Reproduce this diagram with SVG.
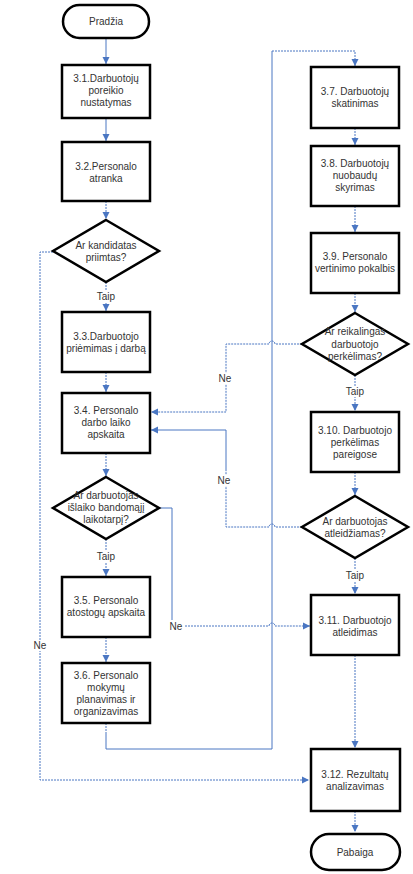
<svg xmlns="http://www.w3.org/2000/svg" width="413" height="874" viewBox="0 0 413 874">
<defs>
<marker id="ah" markerWidth="8" markerHeight="8" refX="7" refY="4" orient="auto" markerUnits="userSpaceOnUse">
<path d="M0,0.5 L7,4 L0,7.5 Z" fill="#4a76c2"/>
</marker>
</defs>
<style>
.n{fill:#fff;stroke:#000;stroke-width:2.5}
.t{font-family:"Liberation Sans",Arial,sans-serif;font-size:10px;fill:#333;text-anchor:middle}
.c{fill:none;stroke:#4a76c2;stroke-width:1}
.d{stroke-dasharray:2 1}
.lb{fill:#fff}
</style>
<rect width="413" height="874" fill="#fff"/>
<g id="connectors">
<path class="c" d="M106,38 V64" marker-end="url(#ah)"/>
<path class="c" d="M106,118 V141" marker-end="url(#ah)"/>
<path class="c d" d="M106,201 V219" marker-end="url(#ah)"/>
<path class="c d" d="M106,282 V311" marker-end="url(#ah)"/>
<path class="c d" d="M106,372 V392" marker-end="url(#ah)"/>
<path class="c d" d="M106,453 V476" marker-end="url(#ah)"/>
<path class="c d" d="M106,539 V576" marker-end="url(#ah)"/>
<path class="c d" d="M106,637 V662" marker-end="url(#ah)"/>
<path class="c d" d="M106,723 V732"/>
<path class="c" d="M106,732 V749 H272 V51"/>
<path class="c d" d="M272,51 H355 V66" marker-end="url(#ah)"/>
<path class="c d" d="M355,128 V145" marker-end="url(#ah)"/>
<path class="c d" d="M355,206 V232" marker-end="url(#ah)"/>
<path class="c d" d="M355,293 V312" marker-end="url(#ah)"/>
<path class="c d" d="M355,375 V411" marker-end="url(#ah)"/>
<path class="c d" d="M355,472 V495" marker-end="url(#ah)"/>
<path class="c d" d="M355,558 V594" marker-end="url(#ah)"/>
<path class="c d" d="M355,655 V748" marker-end="url(#ah)"/>
<path class="c d" d="M355,811 V832" marker-end="url(#ah)"/>
<path class="c d" d="M53,252 H40 V780 H309" marker-end="url(#ah)"/>
<path class="c" d="M159,508 H172 V620"/>
<path class="c d" d="M182,626 H269 A3,3 0 0 1 275,626 H310" marker-end="url(#ah)"/>
<path class="c d" d="M302,344 H275 A3,3 0 0 0 269,344 H226 V412 H151" marker-end="url(#ah)"/>
<path class="c d" d="M302,527 H275 A3,3 0 0 0 269,527 H226 V470"/>
<path class="c" d="M226,470 V430 H151" marker-end="url(#ah)"/>
<rect class="lb" x="94" y="291" width="24" height="11"/>
<text class="t" x="106" y="300">Taip</text>
<rect class="lb" x="94" y="551" width="24" height="11"/>
<text class="t" x="106" y="560">Taip</text>
<rect class="lb" x="343" y="386" width="24" height="11"/>
<text class="t" x="355" y="395">Taip</text>
<rect class="lb" x="343" y="570" width="24" height="11"/>
<text class="t" x="355" y="579">Taip</text>
<rect class="lb" x="32" y="640" width="16" height="11"/>
<text class="t" x="40" y="649">Ne</text>
<rect class="lb" x="168" y="621" width="16" height="11"/>
<text class="t" x="176" y="630">Ne</text>
<rect class="lb" x="217" y="373" width="16" height="11"/>
<text class="t" x="225" y="382">Ne</text>
<rect class="lb" x="216" y="475" width="16" height="11"/>
<text class="t" x="224" y="484">Ne</text>
</g>
<g id="start"><rect class="n" x="63" y="5" width="86" height="33" rx="16.5"/><text class="t" x="106" y="25">Pradžia</text></g>
<g id="n31"><rect class="n" x="62" y="65" width="88" height="53"/><text class="t" x="106" y="82">3.1.Darbuotojų</text><text class="t" x="106" y="94">poreikio</text><text class="t" x="106" y="106">nustatymas</text></g>
<g id="n32"><rect class="n" x="62" y="142" width="88" height="59"/><text class="t" x="106" y="170">3.2.Personalo</text><text class="t" x="106" y="182">atranka</text></g>
<g id="d1"><path class="n" d="M106,220 L159,251 L106,282 L53,251 Z"/><text class="t" x="106" y="249">Ar kandidatas</text><text class="t" x="106" y="261">priimtas?</text></g>
<g id="n33"><rect class="n" x="62" y="312" width="88" height="60"/><text class="t" x="106" y="340">3.3.Darbuotojo</text><text class="t" x="106" y="352">priėmimas į darbą</text></g>
<g id="n34"><rect class="n" x="62" y="393" width="88" height="60"/><text class="t" x="106" y="414">3.4. Personalo</text><text class="t" x="106" y="426">darbo laiko</text><text class="t" x="106" y="438">apskaita</text></g>
<g id="d2"><path class="n" d="M106,477 L159,508 L106,539 L53,508 Z"/><text class="t" x="106" y="499">Ar darbuotojas</text><text class="t" x="106" y="511">išlaiko bandomąjį</text><text class="t" x="106" y="523">laikotarpį?</text></g>
<g id="n35"><rect class="n" x="62" y="577" width="88" height="60"/><text class="t" x="106" y="604">3.5. Personalo</text><text class="t" x="106" y="616">atostogų apskaita</text></g>
<g id="n36"><rect class="n" x="62" y="663" width="88" height="60"/><text class="t" x="106" y="679">3.6. Personalo</text><text class="t" x="106" y="691">mokymų</text><text class="t" x="106" y="703">planavimas ir</text><text class="t" x="106" y="715">organizavimas</text></g>
<g id="n37"><rect class="n" x="311" y="67" width="88" height="61"/><text class="t" x="355" y="95">3.7. Darbuotojų</text><text class="t" x="355" y="107">skatinimas</text></g>
<g id="n38"><rect class="n" x="311" y="146" width="88" height="60"/><text class="t" x="355" y="167">3.8. Darbuotojų</text><text class="t" x="355" y="179">nuobaudų</text><text class="t" x="355" y="191">skyrimas</text></g>
<g id="n39"><rect class="n" x="311" y="233" width="88" height="60"/><text class="t" x="355" y="260">3.9. Personalo</text><text class="t" x="355" y="272">vertinimo pokalbis</text></g>
<g id="d3"><path class="n" d="M355,313 L408,344 L355,375 L302,344 Z"/><text class="t" x="355" y="335">Ar reikalingas</text><text class="t" x="355" y="348">darbuotojo</text><text class="t" x="355" y="360">perkėlimas?</text></g>
<g id="n310"><rect class="n" x="311" y="412" width="88" height="60"/><text class="t" x="355" y="434">3.10. Darbuotojo</text><text class="t" x="355" y="446">perkėlimas</text><text class="t" x="355" y="458">pareigose</text></g>
<g id="d4"><path class="n" d="M355,496 L408,527 L355,558 L302,527 Z"/><text class="t" x="355" y="525">Ar darbuotojas</text><text class="t" x="355" y="537">atleidžiamas?</text></g>
<g id="n311"><rect class="n" x="311" y="595" width="88" height="60"/><text class="t" x="355" y="624">3.11. Darbuotojo</text><text class="t" x="355" y="636">atleidimas</text></g>
<g id="n312"><rect class="n" x="311" y="749" width="89" height="62"/><text class="t" x="355" y="778">3.12. Rezultatų</text><text class="t" x="355" y="790">analizavimas</text></g>
<g id="end"><rect class="n" x="311" y="834" width="89" height="36" rx="18"/><text class="t" x="355" y="856">Pabaiga</text></g>
</svg>
